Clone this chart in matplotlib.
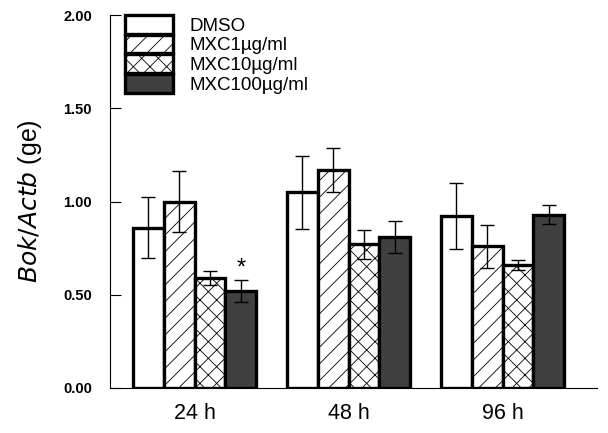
import matplotlib
matplotlib.use("Agg")
import matplotlib.pyplot as plt
import numpy as np

plt.rcParams['font.family'] = ['Liberation Sans', 'DejaVu Sans']
plt.rcParams['hatch.linewidth'] = 0.6

times = ["24 h", "48 h", "96 h"]
groups = ["DMSO", "MXC1µg/ml", "MXC10µg/ml", "MXC100µg/ml"]
means = [
    [0.86, 1.05, 0.92],   # DMSO
    [1.00, 1.17, 0.76],   # MXC1
    [0.59, 0.77, 0.66],   # MXC10
    [0.52, 0.81, 0.93],   # MXC100
]
errs = [
    [0.165, 0.195, 0.177],
    [0.165, 0.12, 0.115],
    [0.035, 0.08, 0.028],
    [0.058, 0.088, 0.05],
]
colors = ["white", "white", "white", "#404040"]
hatches = ["", "//", "xx", ""]

fig = plt.figure(figsize=(6.08, 4.33), dpi=100)
ax = fig.add_axes([0.181, 0.104, 0.801, 0.861])

x = np.arange(len(times))
w = 0.2
handles = []
for i in range(len(groups)):
    pos = x + (i - 1.5) * w
    b = ax.bar(pos, means[i], width=w, color=colors[i], edgecolor="black",
               linewidth=2.4, hatch=hatches[i], label=groups[i], zorder=2)
    ax.errorbar(pos, means[i], yerr=errs[i], fmt="none", ecolor="black",
                elinewidth=1.0, capsize=5, capthick=1.0, zorder=3)
    handles.append(b)

# significance mark
ax.text(x[0] + 1.5 * w, 0.64, "*", ha="center", va="center", fontsize=17)

ax.set_ylim(0, 2.0)
ax.set_xlim(-0.549, 2.614)
ax.set_yticks([0, 0.5, 1.0, 1.5, 2.0])
ax.set_yticklabels(["%.2f" % v for v in [0, 0.5, 1.0, 1.5, 2.0]],
                   fontweight="bold", fontsize=10.5)
ax.tick_params(axis="y", direction="in", length=8, width=0.8, pad=13)
ax.set_xticks(x)
ax.set_xticklabels(times, fontsize=15.5)
ax.tick_params(axis="x", length=0, pad=11)
ax.spines["top"].set_visible(False)
ax.spines["right"].set_visible(False)
ax.spines["left"].set_linewidth(0.8)
ax.spines["bottom"].set_linewidth(0.8)
ax.set_ylabel(r"$\it{Bok/Actb}$ (ge)", fontsize=18, labelpad=14)

ax.legend(handles=handles, loc="upper left", bbox_to_anchor=(0.031, 1.0),
          frameon=False, fontsize=13.5, handlelength=2.55, handleheight=1.15,
          labelspacing=0.0, handletextpad=0.9, borderaxespad=0.0,
          borderpad=0.0)

fig.savefig("out.png", dpi=100)
